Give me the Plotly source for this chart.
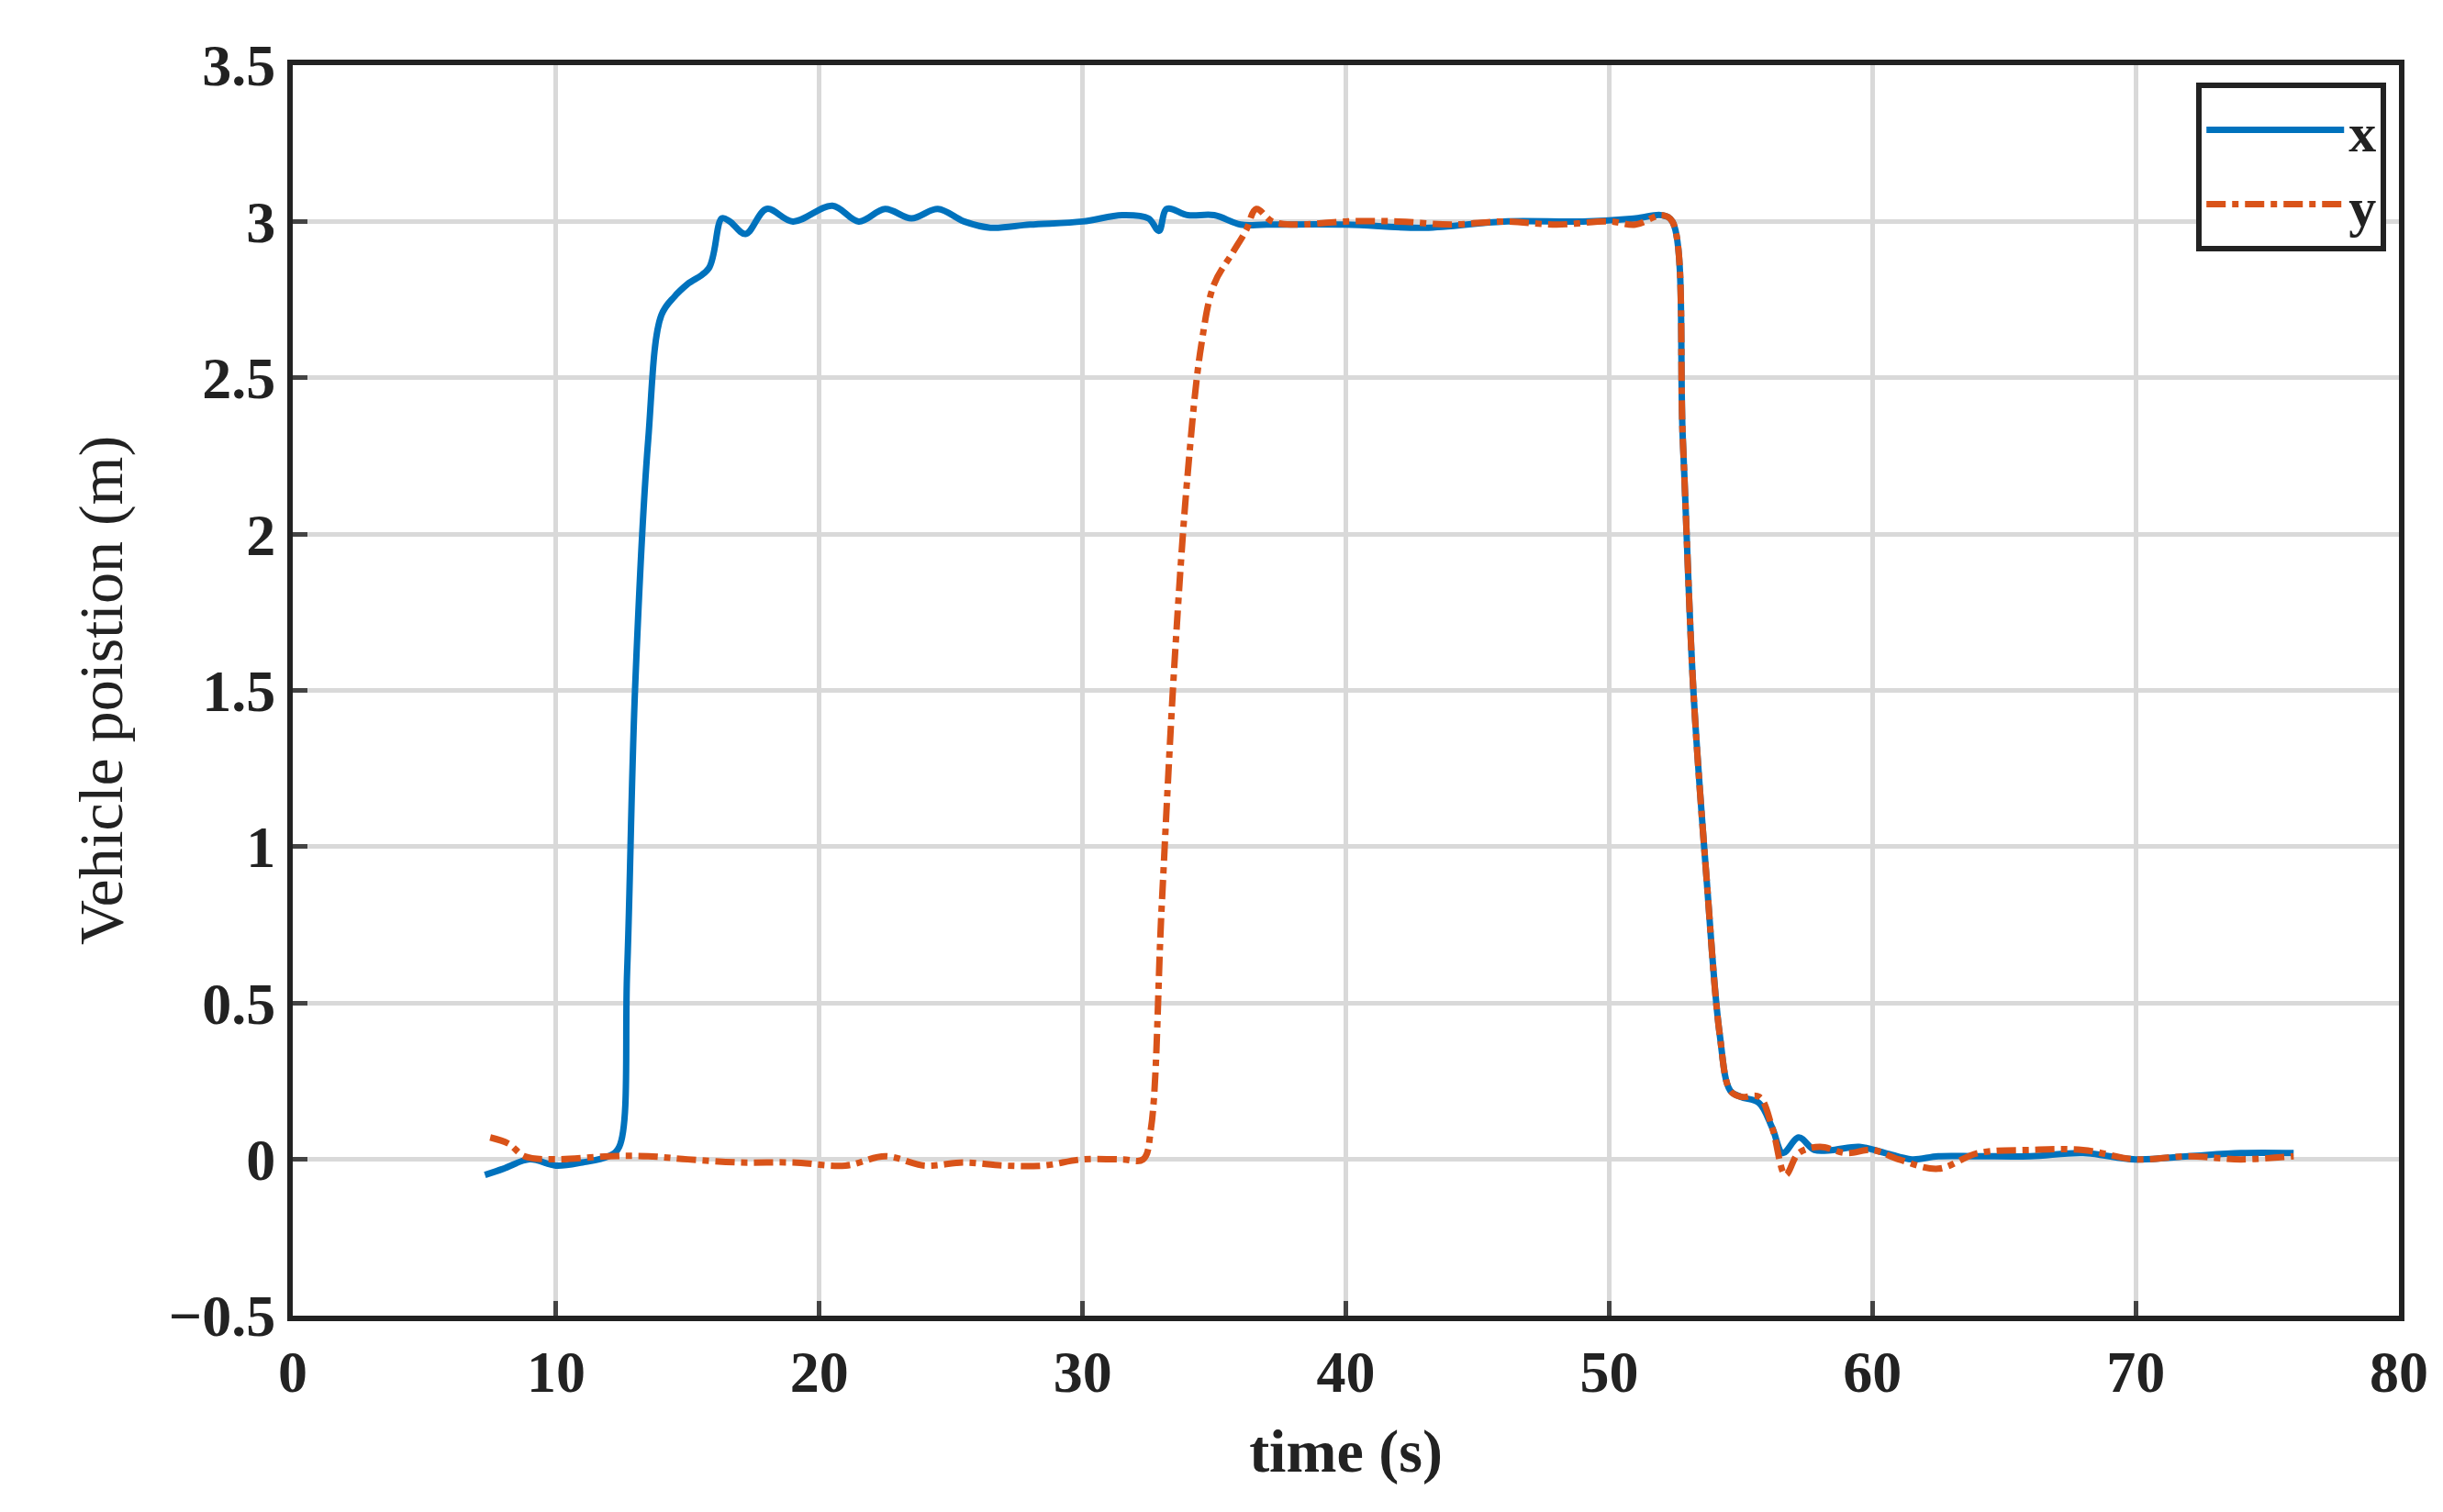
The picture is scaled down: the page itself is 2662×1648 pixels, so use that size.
import plotly.graph_objects as go

tx = [7.3, 8.0, 9.0, 10.0, 11.0, 12.0, 12.4, 12.7, 13.0, 13.5, 14.0, 14.5, 15.0, 15.8, 16.3, 16.6, 17.2, 18.0, 19.0, 20.5, 21.5, 22.5, 23.5, 24.5, 25.5, 26.5, 28.0, 30.0, 31.5, 32.5, 32.9, 33.2, 34.0, 35.0, 36.0, 37.0, 40.0, 43.0, 46.0, 49.0, 51.0, 52.0, 52.4, 52.8, 53.2, 53.7, 54.2, 54.6, 55.0, 55.7, 56.2, 56.6, 57.2, 57.8, 58.5, 59.5, 60.5, 61.5, 62.5, 64.0, 66.0, 68.0, 70.0, 72.0, 74.0, 76.0]
x_val = [-0.05, -0.03, 0.0, -0.02, -0.01, 0.01, 0.04, 0.6, 1.5, 2.3, 2.7, 2.76, 2.8, 2.85, 3.01, 3.0, 2.96, 3.04, 3.0, 3.05, 3.0, 3.04, 3.01, 3.04, 3.0, 2.98, 2.99, 3.0, 3.02, 3.01, 2.97, 3.04, 3.02, 3.02, 2.99, 2.99, 2.99, 2.98, 3.0, 3.0, 3.01, 3.02, 3.0, 2.3, 1.5, 0.9, 0.4, 0.22, 0.2, 0.18, 0.1, 0.02, 0.07, 0.03, 0.03, 0.04, 0.02, 0.0, 0.01, 0.01, 0.01, 0.02, 0.0, 0.01, 0.02, 0.02]

ty = [7.5, 8.2, 8.8, 10.0, 12.0, 13.5, 15.0, 17.0, 19.0, 21.0, 22.5, 24.0, 25.5, 27.0, 28.5, 30.0, 31.5, 32.3, 32.6, 33.0, 33.5, 34.0, 34.5, 35.0, 35.7, 36.2, 36.6, 37.2, 38.0, 40.0, 42.0, 44.0, 46.0, 48.0, 50.0, 51.0, 52.0, 52.4, 52.8, 53.2, 53.7, 54.2, 54.6, 55.0, 55.7, 56.2, 56.7, 57.2, 58.0, 59.0, 60.0, 61.0, 62.5, 64.0, 66.0, 68.0, 70.0, 72.0, 74.0, 76.0]
y_val = [0.07, 0.05, 0.01, 0.0, 0.01, 0.01, 0.0, -0.01, -0.01, -0.02, 0.01, -0.02, -0.01, -0.02, -0.02, 0.0, 0.0, 0.0, 0.1, 0.8, 1.6, 2.2, 2.6, 2.8, 2.9, 2.97, 3.04, 3.0, 2.99, 3.0, 3.0, 2.99, 3.0, 2.99, 3.0, 2.99, 3.02, 3.0, 2.3, 1.5, 0.9, 0.4, 0.22, 0.2, 0.2, 0.1, -0.05, 0.02, 0.04, 0.02, 0.03, 0.0, -0.03, 0.02, 0.03, 0.03, 0.0, 0.01, 0.0, 0.01]

fig = go.Figure()
fig.add_trace(go.Scatter(x=tx, y=x_val, name="x", mode="lines",
                         line=dict(color="#0072BD", width=7, shape="spline")))
fig.add_trace(go.Scatter(x=ty, y=y_val, name="y", mode="lines",
                         line=dict(color="#D95319", width=7, dash="dashdot", shape="spline")))

tf = dict(family="Liberation Serif", size=64, color="#222", weight="bold")
ax = dict(showline=True, linecolor="#222", linewidth=6, mirror=True, ticks="inside",
          ticklen=16, tickwidth=5, showgrid=True, gridcolor="#d9d9d9", gridwidth=5,
          zeroline=False, tickfont=tf)
fig.update_layout(
    width=2662, height=1648, plot_bgcolor="white", paper_bgcolor="white",
    margin=dict(l=311, r=56, t=63, b=222),
    font=dict(family="Liberation Serif", size=64, color="#222"),
    xaxis=dict(ax, range=[0, 80], dtick=10,
               title=dict(text="<b>time (s)</b>", font=dict(size=66), standoff=30)),
    yaxis=dict(ax, range=[-0.5, 3.5], dtick=0.5,
               title=dict(text="Vehicle poistion (m)", font=dict(size=68), standoff=30)),
    legend=dict(x=0.994, y=0.986, xanchor="right", yanchor="top", bgcolor="white",
                bordercolor="#222", borderwidth=6, itemwidth=150,
                font=dict(family="Liberation Serif", size=60, color="#222", weight="bold")),
)
fig.write_html("out.html")
